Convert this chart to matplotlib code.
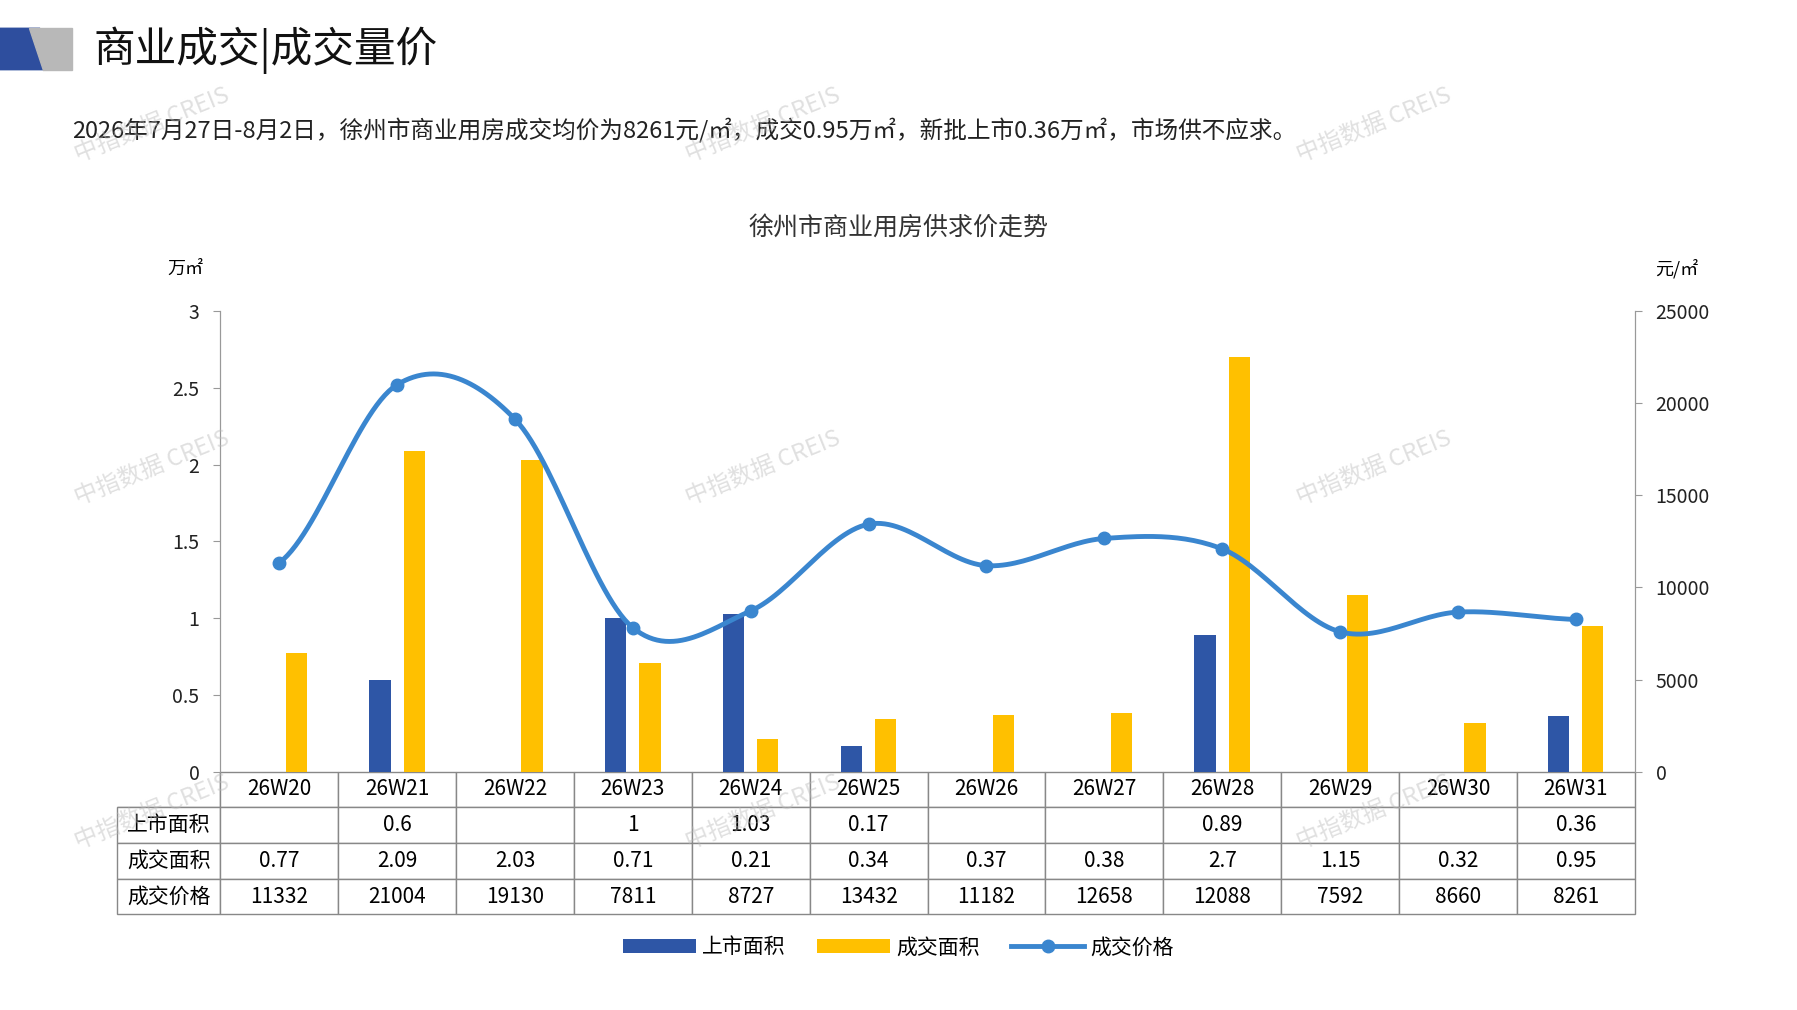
import numpy as np
import matplotlib
matplotlib.use('Agg')
import matplotlib.pyplot as plt
from matplotlib.patches import Polygon

plt.rcParams['font.family'] = ['Noto Sans CJK SC', 'DejaVu Sans']

weeks = ['26W20', '26W21', '26W22', '26W23', '26W24', '26W25',
         '26W26', '26W27', '26W28', '26W29', '26W30', '26W31']
supply = [None, 0.6, None, 1, 1.03, 0.17, None, None, 0.89, None, None, 0.36]
deal = [0.77, 2.09, 2.03, 0.71, 0.21, 0.34, 0.37, 0.38, 2.7, 1.15, 0.32, 0.95]
price = [11332, 21004, 19130, 7811, 8727, 13432, 11182, 12658, 12088, 7592, 8660, 8261]

BLUE = '#2E56A6'
YELLOW = '#FFC000'
LINE = '#3A86CF'


def catmull(xs, ys, n=30):
    xs = np.asarray(xs, float)
    ys = np.asarray(ys, float)
    px = np.concatenate([[2 * xs[0] - xs[1]], xs, [2 * xs[-1] - xs[-2]]])
    py = np.concatenate([[ys[0]], ys, [ys[-1]]])
    ox, oy = [], []
    t = np.linspace(0, 1, n)
    for i in range(1, len(px) - 2):
        for p, o in ((px, ox), (py, oy)):
            p0, p1, p2, p3 = p[i - 1], p[i], p[i + 1], p[i + 2]
            o.extend(0.5 * (2 * p1 + (-p0 + p2) * t
                            + (2 * p0 - 5 * p1 + 4 * p2 - p3) * t ** 2
                            + (-p0 + 3 * p1 - 3 * p2 + p3) * t ** 3))
    return ox, oy


fig = plt.figure(figsize=(17.97, 10.10), dpi=100)
ax = fig.add_axes([0.1226, 0.236, 0.7871, 0.456])
ax2 = ax.twinx()

x = np.arange(len(weeks))
sup_vals = [v if v is not None else 0 for v in supply]
ax.bar(x - 0.145, sup_vals, width=0.18, color=BLUE, label='上市面积', zorder=2)
ax.bar(x + 0.145, deal, width=0.18, color=YELLOW, label='成交面积', zorder=2)
ax.set_xlim(-0.5, len(weeks) - 0.5)
ax.set_ylim(0, 3)
ax.set_yticks([0, 0.5, 1, 1.5, 2, 2.5, 3])
ax.set_yticklabels(['0', '0.5', '1', '1.5', '2', '2.5', '3'])
ax.set_xticks([])

sx, sy = catmull(x, price)
ax2.plot(sx, sy, color=LINE, lw=3.5, zorder=3)
ax2.plot(x, price, 'o', color=LINE, ms=9, zorder=4)
ax2.set_ylim(0, 25000)
ax2.set_yticks(range(0, 25001, 5000))

for a in (ax, ax2):
    a.spines['top'].set_visible(False)
    a.spines['left'].set_color('#999999')
    a.spines['right'].set_color('#999999')
    a.spines['bottom'].set_visible(False)
    a.tick_params(axis='y', labelsize=14, colors='#222222', length=5, pad=10)
    a.tick_params(axis='y', color='#999999')

ax.text(-0.025, 1.08, '万㎡', transform=ax.transAxes, fontsize=13, ha='center')
ax2.text(1.03, 1.08, '元/㎡', transform=ax.transAxes, fontsize=13, ha='center')

def fmt(v):
    if v is None:
        return ''
    return ('%g' % v)

rows = [['上市面积'] + [fmt(v) for v in supply],
        ['成交面积'] + [fmt(v) for v in deal],
        ['成交价格'] + [str(v) for v in price]]
header = [''] + weeks
aw = 0.7871 * 1797
left = -103 / aw
tbl = ax.table(cellText=rows, colLabels=header, cellLoc='center',
               bbox=[left, -0.31, 1 - left, 0.31],
               colWidths=[103] + [aw / 12] * 12)
tbl.auto_set_font_size(False)
tbl.set_fontsize(15)
for (r, c), cell in tbl.get_celld().items():
    cell.set_edgecolor('#888888')
    if r == 0 and c == 0:
        cell.visible_edges = 'BR'

fig.legend(handles=[ax.containers[0], ax.containers[1],
                    plt.Line2D([], [], color=LINE, lw=3.5, marker='o', ms=9)],
           labels=['上市面积', '成交面积', '成交价格'],
           loc='center', bbox_to_anchor=(0.5, 0.062), ncol=3, frameon=False,
           fontsize=15, handlelength=3.5, columnspacing=1.5, handletextpad=0.3)

fig.text(0.5, 0.768, '徐州市商业用房供求价走势', ha='center', fontsize=18, color='#333333')

# header
fig.patches.append(Polygon([[0, 0.972], [0.022, 0.972], [0.03, 0.931], [0, 0.931]],
                           closed=True, transform=fig.transFigure, color='#2E4E9E'))
fig.patches.append(Polygon([[0.016, 0.972], [0.04, 0.972], [0.04, 0.931], [0.024, 0.931]],
                           closed=True, transform=fig.transFigure, color='#B8B8B8'))
fig.text(0.052, 0.95, '商业成交|成交量价', fontsize=30, va='center', color='#111111')
fig.text(0.04, 0.87, '2026年7月27日-8月2日，徐州市商业用房成交均价为8261元/㎡，成交0.95万㎡，新批上市0.36万㎡，市场供不应求。',
         fontsize=17, va='center', color='#222222')

for wx, wy in [(0.04, 0.84), (0.38, 0.84), (0.72, 0.84), (0.04, 0.5), (0.38, 0.5),
               (0.72, 0.5), (0.04, 0.16), (0.38, 0.16), (0.72, 0.16)]:
    fig.text(wx, wy, '中指数据 CREIS', fontsize=17, rotation=22, color='#BBBBBB', alpha=0.45)

fig.savefig('out.png', dpi=100)
